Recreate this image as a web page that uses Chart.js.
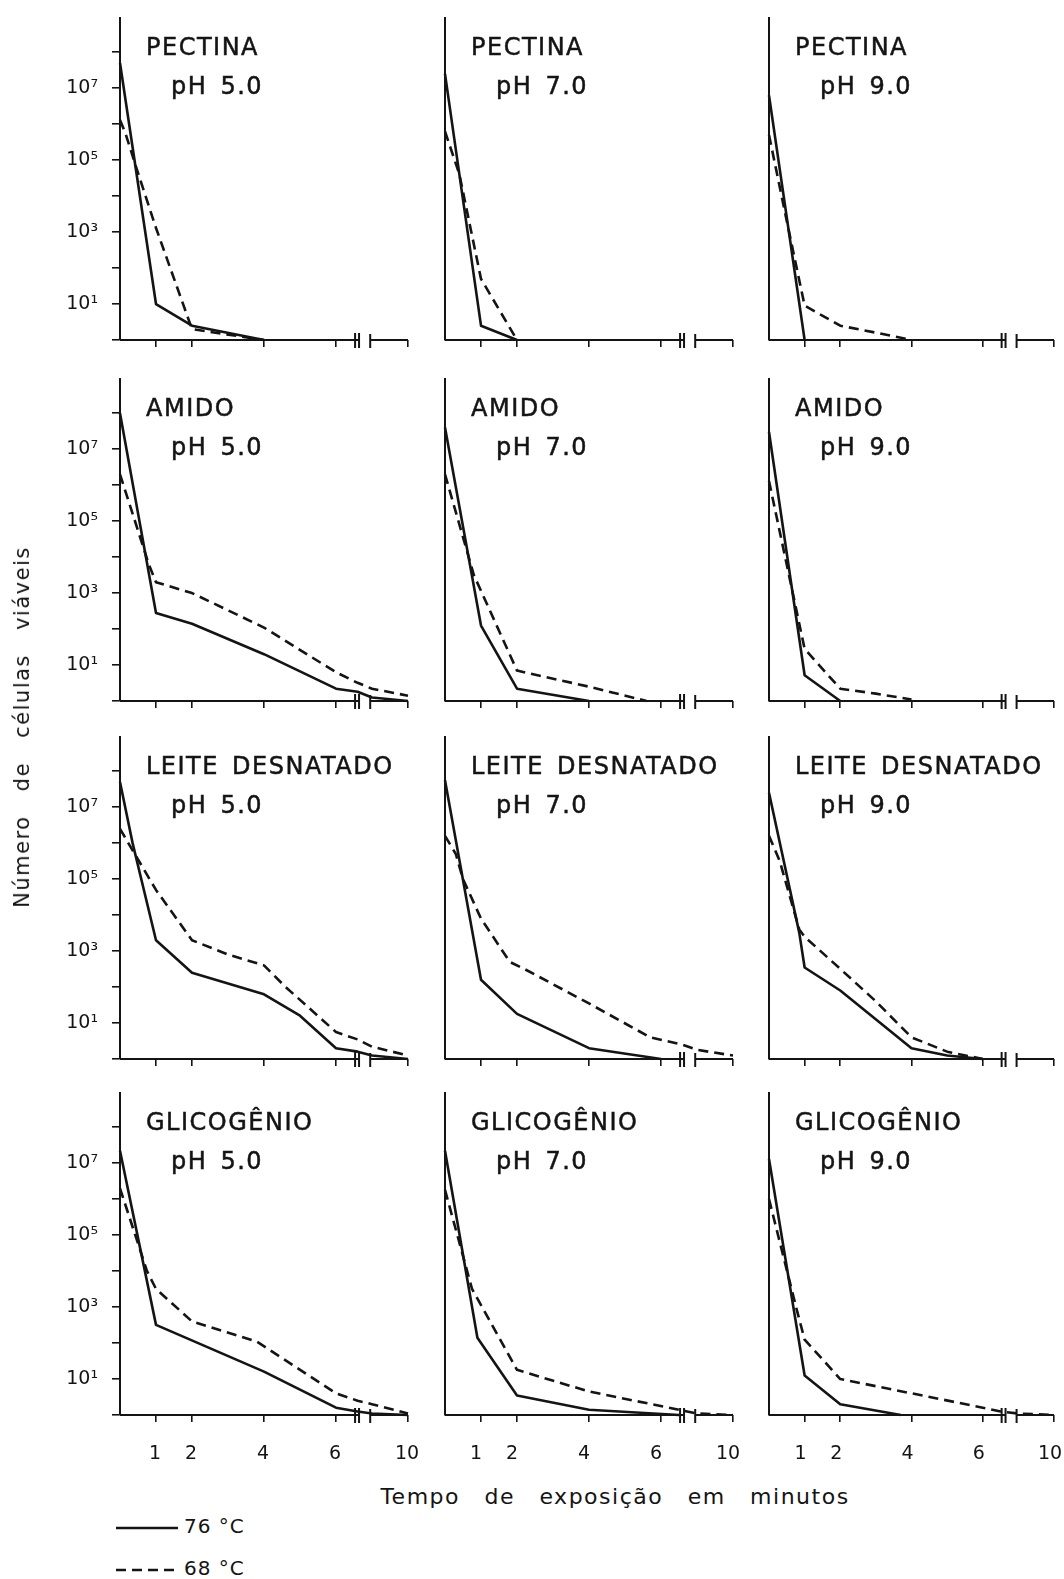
<!DOCTYPE html>
<html>
<head>
<meta charset="utf-8">
<script src="https://cdn.jsdelivr.net/npm/chart.js@4.4.0/dist/chart.umd.min.js"></script>
<style>
  html, body { margin: 0; padding: 0; background: #fff; overflow: hidden; }
  #page { position: relative; width: 1064px; height: 1579px; overflow: hidden;
          font-family: "DejaVu Sans", sans-serif; color: #141414; }
  canvas { position: absolute; }
  .t { position: absolute; white-space: pre; font-size: 24px; line-height: 24px; letter-spacing: 1.5px;
       word-spacing: 4px; -webkit-text-stroke: 0.5px #141414; }
  #xtitle { position: absolute; left: 0; width: 1230px; top: 1484px; text-align: center;
            font-size: 22px; letter-spacing: 1.5px; word-spacing: 16px; white-space: pre; }
  #ytitle { position: absolute; left: 22px; top: 727px; transform: translate(-50%, -50%) rotate(-90deg);
            font-size: 21px; letter-spacing: 1.5px; word-spacing: 16px; white-space: pre; }
  .leg { position: absolute; left: 116px; font-size: 20px; letter-spacing: 1px; white-space: pre; }
  .leg svg { vertical-align: middle; margin-right: 6px; }
</style>
</head>
<body>
<div id="page"></div>
<script>
// substrates (rows) and pH (columns)
const SUBSTRATES = ['PECTINA', 'AMIDO', 'LEITE DESNATADO', 'GLICOGÊNIO'];
const PH_LABELS = ['pH 5.0', 'pH 7.0', 'pH 9.0'];
const X_TICKS = [1, 2, 4, 6, 10];          // minutes
const Y_TICKS = [1, 1e1, 1e2, 1e3, 1e4, 1e5, 1e6, 1e7, 1e8];

// time (min) and viable cells; 76 °C solid, 68 °C dashed
const PEC5_T76 = [0, 1, 2, 4];
const PEC5_N76 = [5e7, 10, 2.5, 1];
const PEC5_T68 = [0, 0.15, 0.45, 1, 2, 4];
const PEC5_N68 = [1.3e6, 5.6e5, 6.3e4, 1.3e3, 2, 1];
const PEC7_T76 = [0, 1, 2];
const PEC7_N76 = [2.5e7, 2.5, 1];
const PEC7_T68 = [0, 0.4, 1, 2];
const PEC7_N68 = [6.3e5, 4e4, 50, 1];
const PEC9_T76 = [0, 1];
const PEC9_N76 = [6.3e6, 1];
const PEC9_T68 = [0, 0.5, 1, 2, 3, 4];
const PEC9_N68 = [5e5, 2e3, 9, 2.5, 1.6, 1];

const AMI5_T76 = [0, 1, 2, 4, 6, 6.6, 9, 10];
const AMI5_N76 = [1e8, 280, 140, 20, 2.2, 1.8, 1.25, 1];
const AMI5_T68 = [0, 0.8, 1, 2, 4, 6, 6.6, 9, 10];
const AMI5_N68 = [2e6, 6.3e3, 2e3, 1e3, 110, 6.3, 3.2, 2.2, 1.4];
const AMI7_T76 = [0, 1, 2, 4];
const AMI7_N76 = [4e7, 125, 2.2, 1];
const AMI7_T68 = [0, 0.8, 2, 4, 5.6];
const AMI7_N68 = [2e6, 3.2e3, 7, 2.5, 1];
const AMI9_T76 = [0, 1, 2];
const AMI9_N76 = [3e7, 5.2, 1];
const AMI9_T68 = [0, 1, 2, 3, 4];
const AMI9_N68 = [1.3e6, 28, 2.2, 1.6, 1.1];

const LEI5_T76 = [0, 0.35, 1, 2, 4, 5, 6, 6.6, 9, 10];
const LEI5_N76 = [5e7, 1e6, 2e3, 250, 63, 16, 2, 1.6, 1.25, 1];
const LEI5_T68 = [0, 0.35, 1, 2, 3, 4, 4.6, 6, 6.6, 9, 10];
const LEI5_N68 = [2.5e6, 6.3e5, 5e4, 2e3, 800, 400, 100, 5.6, 3.5, 2.2, 1.25];
const LEI7_T76 = [0, 1, 2, 4, 6];
const LEI7_N76 = [5.6e7, 160, 18, 2, 1];
const LEI7_T68 = [0, 0.3, 0.5, 1, 1.8, 2.2, 4, 5.7, 6.6, 9, 10];
const LEI7_N68 = [1.6e6, 5e5, 1e5, 8e3, 500, 320, 35, 4, 2.5, 1.8, 1.25];
const LEI9_T76 = [0, 0.85, 1, 2, 4, 5, 6];
const LEI9_N76 = [2.5e7, 3.2e3, 350, 80, 2, 1.25, 1];
const LEI9_T68 = [0, 0.3, 0.85, 1, 2, 3, 4, 5, 6];
const LEI9_N68 = [1.6e6, 3.2e5, 4e3, 2.5e3, 320, 40, 4, 1.6, 1];

const GLI5_T76 = [0, 1, 4, 6, 6.6, 9, 10];
const GLI5_N76 = [2.2e7, 320, 16, 1.6, 1.25, 1.1, 1];
const GLI5_T68 = [0, 0.75, 1, 2, 3.8, 4.1, 6, 6.6, 9, 10];
const GLI5_N68 = [2e6, 1e4, 3.2e3, 400, 110, 70, 4, 2.5, 2, 1.1];
const GLI7_T76 = [0, 0.9, 2, 4, 6.5];
const GLI7_N76 = [2.2e7, 140, 3.5, 1.4, 1];
const GLI7_T68 = [0, 0.75, 2, 4, 6.5, 9, 10];
const GLI7_N68 = [1.8e6, 3.2e3, 18, 4.5, 1.4, 1.1, 1];
const GLI9_T76 = [0, 1, 2, 3.7];
const GLI9_N76 = [1.3e7, 12.5, 2, 1];
const GLI9_T68 = [0, 0.8, 1, 2, 4, 6, 6.5, 9, 10];
const GLI9_N68 = [1e6, 700, 125, 10, 4, 1.6, 1.25, 1.1, 1];

const SERIES = [
  [[PEC5_T76, PEC5_N76, PEC5_T68, PEC5_N68], [PEC7_T76, PEC7_N76, PEC7_T68, PEC7_N68], [PEC9_T76, PEC9_N76, PEC9_T68, PEC9_N68]],
  [[AMI5_T76, AMI5_N76, AMI5_T68, AMI5_N68], [AMI7_T76, AMI7_N76, AMI7_T68, AMI7_N68], [AMI9_T76, AMI9_N76, AMI9_T68, AMI9_N68]],
  [[LEI5_T76, LEI5_N76, LEI5_T68, LEI5_N68], [LEI7_T76, LEI7_N76, LEI7_T68, LEI7_N68], [LEI9_T76, LEI9_N76, LEI9_T68, LEI9_N68]],
  [[GLI5_T76, GLI5_N76, GLI5_T68, GLI5_N68], [GLI7_T76, GLI7_N76, GLI7_T68, GLI7_N68], [GLI9_T76, GLI9_N76, GLI9_T68, GLI9_N68]],
];

const INK = '#141414';
const COL_X = [120, 445, 769];        // y-axis position of each column
const COL_PAD_R = [22, 22, 25];       // right padding (last column a bit narrower)
const COL_LABEL_SHIFT = [-1, -5, -4]; // hand-lettered tick labels sit a little left
const ROW_Y = [340, 701, 1059, 1415]; // x-axis position of each row
const SUP = { 1: '¹', 3: '³', 5: '⁵', 7: '⁷' };

// x axis is broken between ~6.6 and 9 min
const brk = (t) => (t <= 7 ? t : t - 2);

Chart.defaults.font.family = '"DejaVu Sans", sans-serif';
Chart.defaults.color = INK;

const brokenAxis = {
  id: 'brokenAxis',
  afterDraw(chart) {
    const ctx = chart.ctx, xs = chart.scales.x, yb = chart.chartArea.bottom;
    ctx.save();
    ctx.strokeStyle = INK;
    ctx.lineWidth = 2;
    ctx.beginPath();
    ctx.moveTo(xs.getPixelForValue(0), yb);
    ctx.lineTo(xs.getPixelForValue(6.64), yb);
    ctx.moveTo(xs.getPixelForValue(6.95), yb);
    ctx.lineTo(xs.getPixelForValue(8), yb);
    [6.53, 6.64].forEach((v) => {
      const p = xs.getPixelForValue(v);
      ctx.moveTo(p, yb - 7);
      ctx.lineTo(p, yb + 8);
    });
    const p = xs.getPixelForValue(6.95);
    ctx.moveTo(p, yb - 6);
    ctx.lineTo(p, yb + 8);
    ctx.stroke();
    ctx.restore();
  },
};

const page = document.getElementById('page');

function addText(cls, txt, left, top) {
  const d = document.createElement('div');
  d.className = cls;
  d.textContent = txt;
  d.style.left = left + 'px';
  d.style.top = top + 'px';
  page.appendChild(d);
}

SUBSTRATES.forEach((name, r) => {
  PH_LABELS.forEach((ph, c) => {
    const x0 = COL_X[c], yB = ROW_Y[r];
    const bottomRow = r === SUBSTRATES.length - 1;
    const xh = bottomRow ? 65 : 30;
    const cv = document.createElement('canvas');
    cv.width = 430;
    cv.height = 330 + xh;
    cv.style.left = (x0 - 120) + 'px';
    cv.style.top = (yB - 330) + 'px';
    page.appendChild(cv);

    const [t76, n76, t68, n68] = SERIES[r][c];
    const pts = (ts, ns) => ts.map((t, i) => ({ x: brk(t), y: ns[i] }));

    new Chart(cv, {
      type: 'line',
      data: {
        datasets: [
          { label: '76 °C', data: pts(t76, n76), borderColor: INK, borderWidth: 2.6,
            pointRadius: 0, tension: 0, clip: false, borderJoinStyle: 'round' },
          { label: '68 °C', data: pts(t68, n68), borderColor: INK, borderWidth: 2.6,
            borderDash: [10, 6], pointRadius: 0, tension: 0, clip: false, borderJoinStyle: 'round' },
        ],
      },
      options: {
        responsive: false,
        animation: false,
        devicePixelRatio: 1,
        layout: { padding: { top: 8, right: COL_PAD_R[c], left: 0, bottom: 0 } },
        plugins: { legend: { display: false }, tooltip: { enabled: false } },
        scales: {
          x: {
            type: 'linear', min: 0, max: 8,
            border: { display: false },
            grid: { drawOnChartArea: false, drawTicks: true, tickLength: 7, color: INK, lineWidth: 1.6 },
            afterBuildTicks: (s) => { s.ticks = X_TICKS.map((m) => ({ value: brk(m) })); },
            ticks: {
              padding: 21, font: { size: 19 }, maxRotation: 0, autoSkip: false,
              labelOffset: COL_LABEL_SHIFT[c],
              callback: (v) => {
                if (!bottomRow) return '';
                const m = X_TICKS.find((k) => brk(k) === v);
                return m === undefined ? '' : String(m);
              },
            },
            afterFit: (s) => { s.height = xh; s.paddingLeft = 0; s.paddingRight = 0; },
          },
          y: {
            type: 'logarithmic', min: 1, max: Math.pow(10, 8.95),
            border: { display: true, width: 2, color: INK },
            grid: { drawOnChartArea: false, drawTicks: c === 0, tickLength: 8, color: INK, lineWidth: 1.6 },
            afterBuildTicks: (s) => { s.ticks = Y_TICKS.map((v) => ({ value: v })); },
            ticks: {
              padding: 14, font: { size: 19 }, autoSkip: false,
              callback: (v) => {
                const e = Math.round(Math.log10(v));
                return c === 0 && e % 2 === 1 ? '10' + SUP[e] : '';
              },
            },
            afterFit: (s) => { s.width = 120; s.paddingTop = 0; s.paddingBottom = 0; },
          },
        },
      },
      plugins: [brokenAxis],
    });

    addText('t', name, x0 + 26, yB - 305);
    addText('t', ph, x0 + 51, yB - 266);
  });
});

// axis titles
const xt = document.createElement('div');
xt.id = 'xtitle';
xt.textContent = 'Tempo de exposição em minutos';
page.appendChild(xt);

const yt = document.createElement('div');
yt.id = 'ytitle';
yt.textContent = 'Número de células viáveis';
page.appendChild(yt);

// legend
const legendItems = [
  { text: '76 °C', dash: '', top: 1514 },
  { text: '68 °C', dash: '10 6', top: 1556 },
];
legendItems.forEach((it) => {
  const d = document.createElement('div');
  d.className = 'leg';
  d.style.top = it.top + 'px';
  d.innerHTML = '<svg width="62" height="8"><line x1="0" y1="4" x2="62" y2="4" stroke="' + INK +
    '" stroke-width="2.6"' + (it.dash ? ' stroke-dasharray="' + it.dash + '"' : '') + '/></svg>';
  d.appendChild(document.createTextNode(it.text));
  page.appendChild(d);
});
</script>
</body>
</html>
